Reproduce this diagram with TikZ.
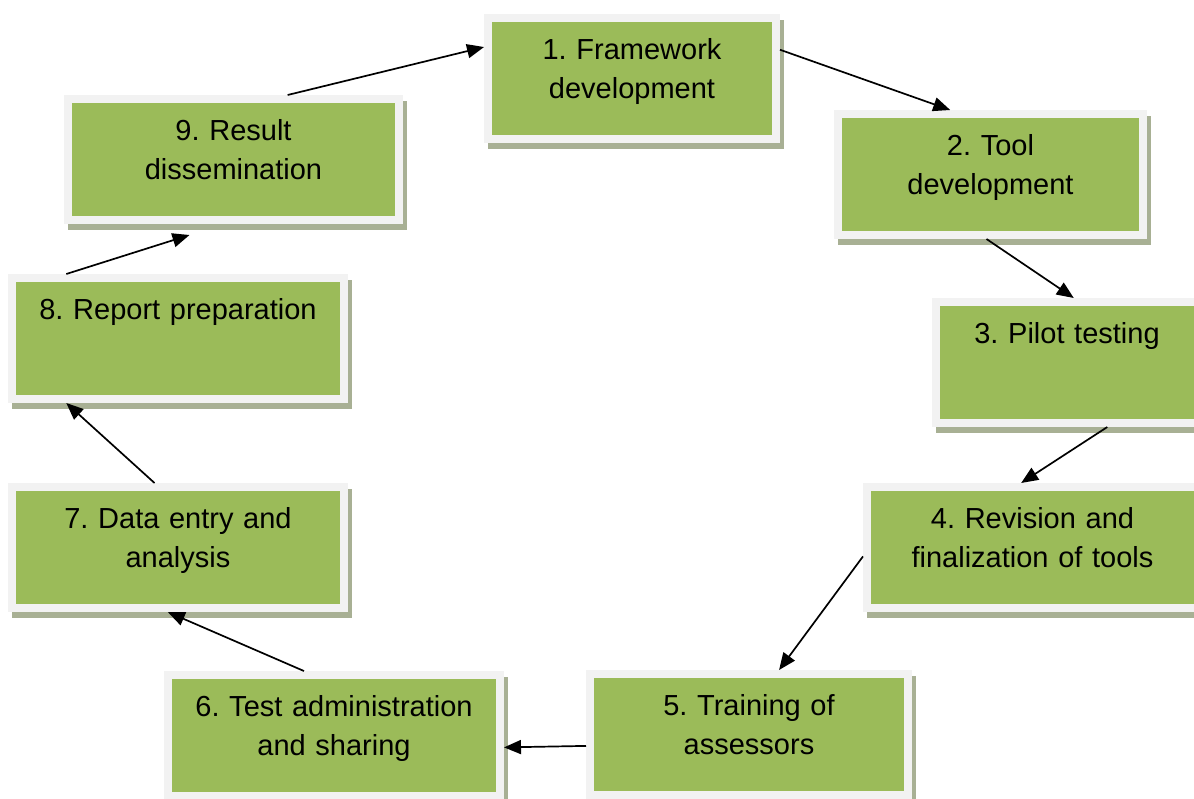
\documentclass[tikz,border=0pt]{standalone}
\usepackage{fontspec}
\setmainfont{Liberation Sans}
\frenchspacing
\usepackage{tikz}
\usetikzlibrary{arrows.meta}
\usetikzlibrary{shadows}
\definecolor{Gruen}{RGB}{155,187,89}
\definecolor{Rahmen}{RGB}{242,242,242}
\definecolor{Schatten}{RGB}{168,176,148}
\tikzset{
  Schritt/.style={fill=Rahmen, inner xsep=8pt, inner ysep=0pt, outer sep=0pt,
    text width=#1, align=center, text height=45pt, text depth=84pt,
    drop shadow={shadow xshift=3.5pt, shadow yshift=-6pt, fill=Schatten, opacity=1},
    path picture={\fill[Gruen]
      ([shift={(8pt,8pt)}]path picture bounding box.south west) rectangle
      ([shift={(-8pt,-8pt)}]path picture bounding box.north east);}}, % Kasten mit Rand
  Pfeil/.style={line width=1.7pt,->} % Verbindungspfeile
}

\begin{document}
\begin{tikzpicture}[x=1pt, y=-1pt,
font=\fontsize{29}{39}\selectfont,
>={Triangle[length=17pt,width=14pt]} % Pfeilspitzen
]
\useasboundingbox (0,0) rectangle (1194,798);

%Kästen
\node[Schritt=280pt] (S1) at (632,78.5) {1. Framework\\development};
\node[Schritt=297pt] (S2) at (990.5,174.5) {2. Tool\\development};
\node[Schritt=254pt] (S3) at (1067,362.5) {3. Pilot testing};
\node[Schritt=323pt] (S4) at (1032.5,547.5) {4. Revision and\\finalization of tools};
\node[Schritt=310pt] (S5) at (749,734.5) {5. Training of\\assessors};
\node[Schritt=324pt] (S6) at (334,735.5) {6. Test administration\\and sharing};
\node[Schritt=324pt] (S7) at (178,547.5) {7. Data entry and\\analysis};
\node[Schritt=324pt] (S8) at (178,338.5) {8. Report preparation};
\node[Schritt=323pt] (S9) at (233.5,159.5) {9. Result\\dissemination};

%Pfeile
\draw[Pfeil] (S9.50) -- (S1.168);
\draw[Pfeil] (S1.11) -- (S2.122);
\draw[Pfeil] ([xshift=-4pt]S2.south) -- (S3.84);
\draw[Pfeil] (S3.302) -- (S4.100);
\draw[Pfeil] (S4.183) -- (S5.65);
\draw[Pfeil] (S5.184) -- (S6.356);
\draw[Pfeil] (S6.115) -- (S7.261);
\draw[Pfeil] (S7.110) -- (S8.210);
\draw[Pfeil] (S8.150) -- ([shift={(-44pt,-11pt)}]S9.south);

\end{tikzpicture}
\end{document}
